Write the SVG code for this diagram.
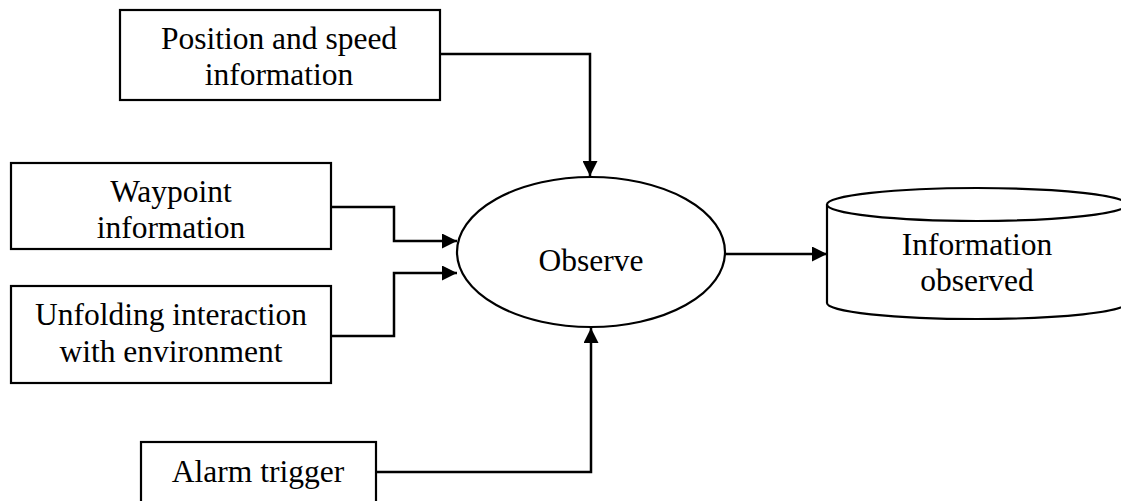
<svg xmlns="http://www.w3.org/2000/svg" width="1121" height="501" viewBox="0 0 1121 501">
  <style>
    .box { fill: #fff; stroke: #000; stroke-width: 2.2; }
    .lbl { font-family: "Liberation Serif", "Times New Roman", serif; font-size: 31.5px; fill: #000; text-anchor: middle; }
    .wire { fill: none; stroke: #000; stroke-width: 2.5; }
  </style>
  <defs>
    <marker id="arrow" markerUnits="userSpaceOnUse" markerWidth="15" markerHeight="15" viewBox="0 0 15 15" refX="15" refY="7.5" orient="auto">
      <path d="M0,0 L15,7.5 L0,15 Z" fill="#000"/>
    </marker>
  </defs>

  <rect width="1121" height="501" fill="#fff"/>

  <!-- connectors -->
  <g id="connectors">
    <path class="wire" d="M440,54 H590 V176" marker-end="url(#arrow)"/>
    <path class="wire" d="M331,207 H394 V241 H457" marker-end="url(#arrow)"/>
    <path class="wire" d="M331,336 H394 V273 H457" marker-end="url(#arrow)"/>
    <path class="wire" d="M376,472 H591 V328" marker-end="url(#arrow)"/>
    <path class="wire" d="M725,254 H827" marker-end="url(#arrow)"/>
  </g>

  <g id="position-speed">
    <rect class="box" x="120" y="10" width="320" height="90"/>
    <text class="lbl" x="279" y="49">Position and speed</text>
    <text class="lbl" x="279" y="85">information</text>
  </g>

  <g id="waypoint">
    <rect class="box" x="11" y="163" width="320" height="86"/>
    <text class="lbl" x="171" y="202">Waypoint</text>
    <text class="lbl" x="171" y="238">information</text>
  </g>

  <g id="unfolding">
    <rect class="box" x="11" y="286" width="320" height="97"/>
    <text class="lbl" x="171" y="325">Unfolding interaction</text>
    <text class="lbl" x="171" y="362">with environment</text>
  </g>

  <g id="alarm">
    <rect class="box" x="141" y="442" width="235" height="70"/>
    <text class="lbl" x="258" y="482">Alarm trigger</text>
  </g>

  <g id="observe">
    <ellipse class="box" cx="591" cy="252" rx="134" ry="75"/>
    <text class="lbl" x="591" y="271">Observe</text>
  </g>

  <g id="store">
    <path class="box" d="M827,204 V303 A150,16 0 0 0 1127,303 V204"/>
    <ellipse class="box" cx="977" cy="204.5" rx="150" ry="16.5"/>
    <text class="lbl" x="977" y="255">Information</text>
    <text class="lbl" x="977" y="291">observed</text>
  </g>
</svg>
